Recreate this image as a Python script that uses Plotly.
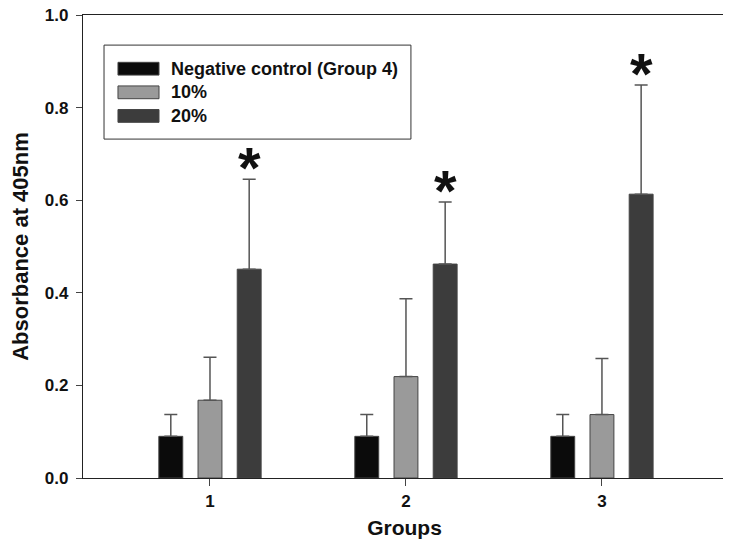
import plotly.graph_objects as go

groups = [1, 2, 3]
group_labels = ["1", "2", "3"]
series_names = ["Negative control (Group 4)", "10%", "20%"]
neg_control = [0.090, 0.090, 0.090]
neg_control_err = [0.047, 0.047, 0.047]
pct10 = [0.168, 0.219, 0.137]
pct10_err = [0.093, 0.168, 0.121]
pct20 = [0.451, 0.462, 0.613]
pct20_err = [0.194, 0.134, 0.236]
significant = ["*", "*", "*"]

colors = ["#0b0b0b", "#9a9a9a", "#3c3c3c"]
FONT = "Liberation Sans, Arial, sans-serif"

fig = go.Figure()
for name, vals, errs, col in zip(series_names,
                                 [neg_control, pct10, pct20],
                                 [neg_control_err, pct10_err, pct20_err],
                                 colors):
    fig.add_trace(go.Bar(
        x=groups, y=vals, name=name,
        marker=dict(color=col, line=dict(color="#444444", width=1)),
        error_y=dict(type="data", symmetric=False, array=errs,
                     arrayminus=[0] * len(errs), color="#555555",
                     thickness=1.5, width=6.5),
        showlegend=False,
    ))

# significance asterisks above the 20% bars
n_series = 3
bargap = 0.4
slot = (1 - bargap) / n_series
offset20 = slot * (2 - (n_series - 1) / 2)
for g, v, e, s in zip(groups, pct20, pct20_err, significant):
    fig.add_annotation(x=g + offset20, y=v + e, text=s, showarrow=False,
                       yanchor="bottom", yshift=-23,
                       font=dict(family=FONT, size=58, color="#111111", weight="bold"))

# custom legend box
shapes = [dict(type="rect", xref="paper", yref="paper", x0=0.0327, x1=0.510,
               y0=0.732, y1=0.935, line=dict(color="#333333", width=1),
               fillcolor="white", layer="below")]
rows_y = [0.884, 0.833, 0.782]
for name, col, yy in zip(series_names, colors, rows_y):
    shapes.append(dict(type="rect", xref="paper", yref="paper", x0=0.0544, x1=0.1182,
                       y0=yy - 0.0138, y1=yy + 0.0138,
                       line=dict(color="#444444", width=1), fillcolor=col))
    fig.add_annotation(xref="paper", yref="paper", x=0.1337, y=yy, text=name,
                       showarrow=False, xanchor="left", yanchor="middle",
                       font=dict(family=FONT, size=18, color="#111111", weight="bold"))

fig.update_layout(
    width=723, height=535,
    margin=dict(l=75, r=5, t=7, b=65),
    paper_bgcolor="white", plot_bgcolor="white",
    barmode="group", bargap=bargap, bargroupgap=0.39,
    shapes=shapes,
    font=dict(family=FONT, color="#111111"),
)
fig.update_xaxes(
    range=[0.352, 3.633], tickmode="array", tickvals=groups, ticktext=group_labels,
    automargin=False,
    showgrid=False, zeroline=False, showline=True, linecolor="#222222", linewidth=1.2,
    mirror=True, ticks="outside", ticklen=7, tickcolor="#444444",
    tickfont=dict(family=FONT, size=17, color="#111111", weight="bold"),
    title=dict(text="Groups", standoff=10,
               font=dict(family=FONT, size=21, color="#111111", weight="bold")),
)
fig.update_yaxes(
    range=[0, 1.0], tickmode="array", tickvals=[0, 0.2, 0.4, 0.6, 0.8, 1.0],
    ticktext=["0.0", "0.2", "0.4", "0.6", "0.8", "1.0"], ticklabeloverflow="allow",
    automargin=False,
    showgrid=False, zeroline=False, showline=True, linecolor="#222222", linewidth=1.2,
    mirror=True, ticks="outside", ticklen=6, tickcolor="#444444", ticklabelstandoff=4,
    tickfont=dict(family=FONT, size=17, color="#111111", weight="bold"),
    title=dict(text="Absorbance at 405nm", standoff=27,
               font=dict(family=FONT, size=22, color="#111111", weight="bold")),
)

fig.write_html("out.html")
